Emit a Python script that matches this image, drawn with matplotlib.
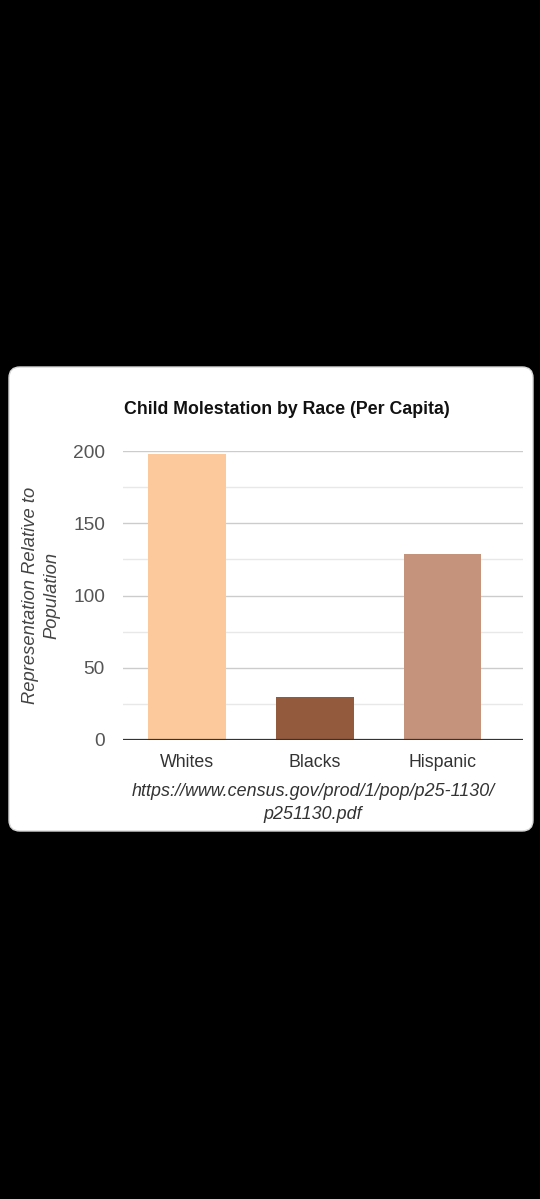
import matplotlib.pyplot as plt
from matplotlib.patches import FancyBboxPatch

# data
races = ['Whites', 'Blacks', 'Hispanic']
values = [198, 30, 129]
bar_colors = ['#FCC99C', '#935A3D', '#C5927B']
y_ticks = [0, 50, 100, 150, 200]
y_minor = [25, 75, 125, 175]

title = 'Child Molestation by Race (Per Capita)'
y_label = 'Representation Relative to\nPopulation'
source = 'https://www.census.gov/prod/1/pop/p25-1130/\np251130.pdf'

plt.rcParams['font.family'] = ['Liberation Sans', 'DejaVu Sans']

W, H = 540, 1199
fig = plt.figure(figsize=(W / 100, H / 100), dpi=100)
fig.patch.set_facecolor('black')

# white card behind the chart
card = FancyBboxPatch((9 / W, 1 - 831 / H), 524 / W, 464 / H,
                      boxstyle='round,pad=0,rounding_size=0.02',
                      transform=fig.transFigure, facecolor='white',
                      edgecolor='#d8d8d8', linewidth=1.0, zorder=-5,
                      mutation_aspect=W / H)
fig.patches.append(card)

ax = fig.add_axes([123 / W, 1 - 740 / H, 400 / W, 289 / H])
ax.set_facecolor('white')
ax.set_zorder(2)

ax.bar(range(len(races)), values, width=0.61, color=bar_colors, zorder=3)

ax.set_ylim(0, 200)
ax.set_xlim(-0.5, 2.63)
ax.set_yticks(y_ticks)
ax.set_yticks(y_minor, minor=True)
ax.set_yticklabels([str(v) for v in y_ticks])
ax.grid(axis='y', which='major', color='#cccccc', linewidth=1.0, zorder=0)
ax.grid(axis='y', which='minor', color='#e8e8e8', linewidth=1.0, zorder=0)
ax.axhline(0, color='#333333', linewidth=1.6, zorder=4)
ax.set_axisbelow(True)

for s in ax.spines.values():
    s.set_visible(False)

ax.set_xticks(range(len(races)))
ax.set_xticklabels(races)
ax.tick_params(axis='x', length=0, pad=10, labelsize=12.8, labelcolor='#333333')
ax.tick_params(axis='y', which='both', length=0, pad=13, labelsize=13.8,
               labelcolor='#555555')

fig.text(287 / W, 1 - 410 / H, title, ha='center', va='center',
         fontsize=12.8, fontweight='bold', color='#111111')
fig.text(41 / W, 1 - 595 / H, y_label, ha='center', va='center',
         rotation=90, fontsize=13.2, style='italic', color='#444444',
         linespacing=1.3)
fig.text(313 / W, 1 - 803 / H, source, ha='center', va='center',
         fontsize=12.9, style='italic', color='#333333', linespacing=1.4)

fig.savefig('out.png', dpi=100, facecolor=fig.get_facecolor())
